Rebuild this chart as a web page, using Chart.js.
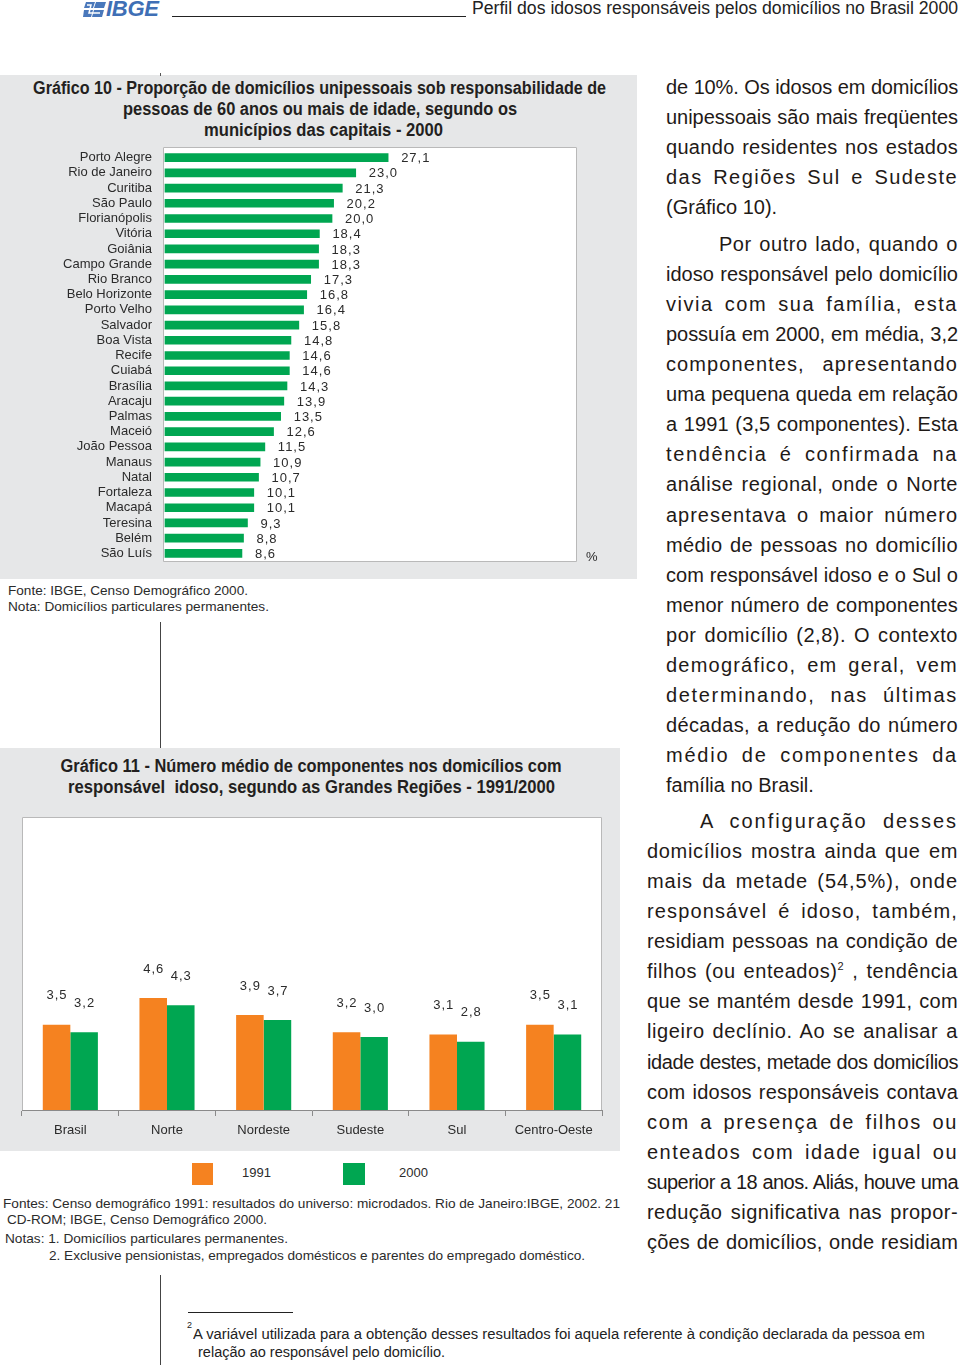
<!DOCTYPE html>
<html>
<head>
<meta charset="utf-8">
<script src="https://cdn.jsdelivr.net/npm/chart.js@4.4.0/dist/chart.umd.min.js"></script>
<style>
  body { margin: 0; width: 960px; height: 1365px; position: relative; overflow: hidden; background: #fff;
         font-family: "Liberation Sans", Arial, sans-serif; color: #231f20; }
  .abs { position: absolute; white-space: nowrap; }
  .panel { position: absolute; background: #e6e7e8; }
  .ttl { font-family: "Liberation Sans Narrow", "Liberation Sans", sans-serif; font-weight: bold; font-size: 18px; line-height: 22px; text-align: center; }
  .src { font-size: 13px; line-height: 16px; color: #2b2b2b; }
  .fit { display: inline-block; transform-origin: left center; }
  .ttl .fit { transform-origin: center center; }
  .vl { position: absolute; width: 1px; background: #444; }
  .body { position: absolute; font-size: 20px; line-height: 22px; color: #1f1a17; }
  .body.j { text-align: justify; text-align-last: justify; }
</style>
</head>
<body>

<!-- cabeçalho -->
<svg class="abs" style="left:83px;top:2px" width="24" height="15" viewBox="0 0 24 15">
  <polygon points="3,0 12,0 10,6 1,6" fill="#4a78bb"/>
  <polygon points="13,0 23,0 21,6 11,6" fill="#4a78bb"/>
  <polygon points="1,8 10,8 8,15 0,15" fill="#4a78bb"/>
  <polygon points="11,8 21,8 19,15 9,15" fill="#4a78bb"/>
  <polyline points="4,3 8,3 6,11 17,11" stroke="#fff" stroke-width="1.5" fill="none"/>
</svg>
<div class="abs" style="left:106px;top:-4px;font-size:22px;font-weight:bold;font-style:italic;color:#3f6fb5;letter-spacing:-0.3px">IBGE</div>
<div class="abs" style="left:172px;top:16px;width:294px;height:1px;background:#222"></div>
<div class="abs" style="left:472px;top:-3px;font-family:'Liberation Sans Narrow','Liberation Sans',sans-serif;font-size:18px;line-height:22px;color:#222"><span class="fit" data-w="486">Perfil dos idosos responsáveis pelos domicílios no Brasil 2000</span></div>

<!-- Gráfico 10 -->
<div class="panel" style="left:0;top:75px;width:637px;height:504px"></div>
<div class="abs" style="left:160px;top:73px;width:1px;height:3px;background:#555"></div>
<div class="abs ttl" style="left:0;top:77px;width:640px"><span class="fit" data-w="573">Gráfico 10 - Proporção de domicílios unipessoais sob responsabilidade de</span></div>
<div class="abs ttl" style="left:0;top:98px;width:640px"><span class="fit" data-w="394">pessoas de 60 anos ou mais de idade, segundo os</span></div>
<div class="abs ttl" style="left:4px;top:119px;width:640px"><span class="fit" data-w="239">municípios das capitais - 2000</span></div>
<div class="abs" style="left:0;top:140px;width:637px;height:440px"><canvas id="c1" width="637" height="440"></canvas></div>
<div class="abs src" style="left:586px;top:549px">%</div>
<div class="abs src" style="left:8px;top:583px"><span class="fit" data-w="240">Fonte: IBGE, Censo Demográfico 2000.</span></div>
<div class="abs src" style="left:8px;top:599px"><span class="fit" data-w="261">Nota: Domicílios particulares permanentes.</span></div>

<div class="vl" style="left:160px;top:622px;height:126px"></div>

<!-- Gráfico 11 -->
<div class="panel" style="left:0;top:748px;width:620px;height:403px"></div>
<div class="abs ttl" style="left:0;top:755px;width:623px"><span class="fit" data-w="501">Gráfico 11 - Número médio de componentes nos domicílios com</span></div>
<div class="abs ttl" style="left:0;top:776px;width:623px"><span class="fit" data-w="487">responsável&nbsp; idoso, segundo as Grandes Regiões - 1991/2000</span></div>
<div class="abs" style="left:0;top:800px;width:620px;height:350px"><canvas id="c2" width="620" height="350"></canvas></div>

<div class="abs" style="left:192px;top:1163px;width:21px;height:22px;background:#f58220"></div>
<div class="abs src" style="left:242px;top:1165px">1991</div>
<div class="abs" style="left:343px;top:1163px;width:22px;height:22px;background:#00a651"></div>
<div class="abs src" style="left:399px;top:1165px">2000</div>

<div class="abs src" style="left:3px;top:1196px"><span class="fit" data-w="617">Fontes: Censo demográfico 1991: resultados do universo: microdados. Rio de Janeiro:IBGE, 2002. 21</span></div>
<div class="abs src" style="left:7px;top:1212px"><span class="fit" data-w="260">CD-ROM; IBGE, Censo Demográfico 2000.</span></div>
<div class="abs src" style="left:5px;top:1231px"><span class="fit" data-w="283">Notas: 1. Domicílios particulares permanentes.</span></div>
<div class="abs src" style="left:49px;top:1248px"><span class="fit" data-w="536">2. Exclusive pensionistas, empregados domésticos e parentes do empregado doméstico.</span></div>

<div class="vl" style="left:160px;top:1275px;height:90px"></div>

<!-- nota de rodapé -->
<div class="abs" style="left:188px;top:1312px;width:105px;height:1px;background:#222"></div>
<div class="abs" style="left:187px;top:1320px;font-size:9px;color:#222">2</div>
<div class="abs" style="left:193px;top:1325px;font-size:14px;line-height:18px;color:#222"><span class="fit" data-w="732">A variável utilizada para a obtenção desses resultados foi aquela referente à condição declarada da pessoa em</span></div>
<div class="abs" style="left:198px;top:1343px;font-size:14px;line-height:18px;color:#222"><span class="fit" data-w="247">relação ao responsável pelo domicílio.</span></div>

<div id="texto"></div>

<script>
// Gráfico 10
const capitais = ['Porto Alegre', 'Rio de Janeiro', 'Curitiba', 'São Paulo', 'Florianópolis', 'Vitória',
  'Goiânia', 'Campo Grande', 'Rio Branco', 'Belo Horizonte', 'Porto Velho', 'Salvador', 'Boa Vista',
  'Recife', 'Cuiabá', 'Brasília', 'Aracaju', 'Palmas', 'Maceió', 'João Pessoa', 'Manaus', 'Natal',
  'Fortaleza', 'Macapá', 'Teresina', 'Belém', 'São Luís'];
const proporcao = [27.1, 23.0, 21.3, 20.2, 20.0, 18.4, 18.3, 18.3, 17.3, 16.8, 16.4, 15.8, 14.8,
  14.6, 14.6, 14.3, 13.9, 13.5, 12.6, 11.5, 10.9, 10.7, 10.1, 10.1, 9.3, 8.8, 8.6];

// Gráfico 11
const regioes = ['Brasil', 'Norte', 'Nordeste', 'Sudeste', 'Sul', 'Centro-Oeste'];
const comp1991 = [3.5, 4.6, 3.9, 3.2, 3.1, 3.5];
const comp2000 = [3.2, 4.3, 3.7, 3.0, 2.8, 3.1];

const LARANJA = '#f58220';
const VERDE = '#00a651';

function fmt(v) { return v.toFixed(1).replace('.', ','); }

// caixa branca atrás das barras
const plotBox = {
  id: 'plotBox',
  beforeDraw(chart, args, o) {
    const { ctx, chartArea: a } = chart;
    const top = a.top - (o.extraTop || 0);
    ctx.save();
    ctx.fillStyle = '#fff';
    ctx.fillRect(a.left, top, a.right - a.left, a.bottom - top);
    ctx.strokeStyle = '#b9b9b9';
    ctx.lineWidth = 1;
    ctx.beginPath();
    if (o.closed) {
      ctx.rect(a.left + 0.5, top + 0.5, a.right - a.left - 1, a.bottom - top);
    } else {
      ctx.moveTo(a.left + 0.5, a.bottom);
      ctx.lineTo(a.left + 0.5, top + 0.5);
      ctx.lineTo(a.right - 0.5, top + 0.5);
      ctx.lineTo(a.right - 0.5, a.bottom);
    }
    ctx.stroke();
    ctx.restore();
  }
};

const valueLabels = {
  id: 'valueLabels',
  afterDatasetsDraw(chart, args, o) {
    const ctx = chart.ctx;
    ctx.save();
    ctx.font = '13px "Liberation Sans", Arial, sans-serif';
    ctx.fillStyle = '#2b2b2b';
    ctx.letterSpacing = '1px';
    ctx.textBaseline = 'middle';
    chart.data.datasets.forEach((ds, i) => {
      chart.getDatasetMeta(i).data.forEach((bar, j) => {
        const t = fmt(ds.data[j]);
        if (o.horizontal) {
          ctx.textAlign = 'left';
          ctx.fillText(t, bar.x + 13, bar.y + 1);
        } else {
          ctx.textAlign = 'center';
          ctx.fillText(t, bar.x + 0.5, bar.y - 29);
        }
      });
    });
    ctx.restore();
  }
};

new Chart(document.getElementById('c1'), {
  type: 'bar',
  data: {
    labels: capitais,
    datasets: [{ data: proporcao, backgroundColor: VERDE, barThickness: 8, base: -1.14 }]
  },
  options: {
    indexAxis: 'y',
    responsive: false,
    animation: false,
    layout: { padding: { top: 10, bottom: 19, right: 60, left: 0 } },
    plugins: {
      legend: { display: false },
      tooltip: { enabled: false },
      plotBox: { closed: true, extraTop: 3 },
      valueLabels: { horizontal: true }
    },
    scales: {
      x: { display: false, min: -1.39, max: 51.0 },
      y: {
        grid: { display: false, drawTicks: true, tickLength: 11 },
        border: { display: false },
        ticks: { autoSkip: false, padding: 0, color: '#2b2b2b', font: { family: '"Liberation Sans", Arial, sans-serif', size: 13 } },
        afterFit(s) { s.width = 163; }
      }
    }
  },
  plugins: [plotBox, valueLabels]
});

new Chart(document.getElementById('c2'), {
  type: 'bar',
  data: {
    labels: regioes,
    datasets: [
      { label: '1991', data: comp1991, backgroundColor: LARANJA },
      { label: '2000', data: comp2000, backgroundColor: VERDE }
    ]
  },
  options: {
    responsive: false,
    animation: false,
    datasets: { bar: { categoryPercentage: 0.57, barPercentage: 1 } },
    layout: { padding: { top: 18, bottom: 12, left: 22, right: 18 } },
    plugins: {
      legend: { display: false },
      tooltip: { enabled: false },
      plotBox: { closed: false, extraTop: 1 },
      valueLabels: { horizontal: false }
    },
    scales: {
      y: { display: false, min: 0, max: 12 },
      x: {
        grid: { drawOnChartArea: false, drawTicks: true, tickLength: 6, color: '#8a8a8a' },
        border: { display: true, color: '#8a8a8a' },
        ticks: { padding: 7, color: '#2b2b2b', font: { family: '"Liberation Sans", Arial, sans-serif', size: 13 } },
        afterFit(s) { s.height = 28; }
      }
    }
  },
  plugins: [plotBox, valueLabels]
});

// texto corrido à direita
const par1 = ['de 10%. Os idosos em domicílios', 'unipessoais são mais freqüentes',
  'quando residentes nos estados', 'das Regiões Sul e Sudeste', '(Gráfico 10).'];
const par2 = ['Por outro lado, quando o', 'idoso responsável pelo domicílio', 'vivia com sua família, esta',
  'possuía em 2000, em média, 3,2', 'componentes, apresentando', 'uma pequena queda em relação',
  'a 1991 (3,5 componentes). Esta', 'tendência é confirmada na', 'análise regional, onde o Norte',
  'apresentava o maior número', 'médio de pessoas no domicílio', 'com responsável idoso e o Sul o',
  'menor número de componentes', 'por domicílio (2,8). O contexto', 'demográfico, em geral, vem',
  'determinando, nas últimas', 'décadas, a redução do número', 'médio de componentes da',
  'família no Brasil.'];
const par3 = ['A configuração desses', 'domicílios mostra ainda que em', 'mais da metade (54,5%), onde',
  'responsável é idoso, também,', 'residiam pessoas na condição de',
  'filhos (ou enteados)<sup style="font-size:11px;line-height:0">2</sup> , tendência',
  'que se mantém desde 1991, com', 'ligeiro declínio. Ao se analisar a',
  'idade destes, metade dos domicílios', 'com idosos responsáveis contava', 'com a presença de filhos ou',
  'enteados com idade igual ou', 'superior a 18 anos. Aliás, houve uma',
  'redução significativa nas propor-', 'ções de domicílios, onde residiam'];

const box = document.getElementById('texto');
function linhas(arr, y0, passo, xFirst, x, last) {
  arr.forEach((t, k) => {
    const d = document.createElement('div');
    d.className = 'body';
    const left = k === 0 ? xFirst : x;
    d.style.left = left + 'px';
    d.style.top = (y0 + passo * k - 11) + 'px';
    d.style.width = (958 - left) + 'px';
    d.innerHTML = '<span>' + t + '</span>';
    box.appendChild(d);
    const sp = d.firstChild;
    sp.style.whiteSpace = 'nowrap';
    const nat = sp.getBoundingClientRect().width;
    const alvo = 958 - left;
    const n = sp.textContent.length;
    const ultima = last && k === arr.length - 1;
    if (nat > alvo - 1) {
      d.style.letterSpacing = ((alvo - nat - 2) / n) + 'px';
    } else if (!ultima) {
      d.style.letterSpacing = (0.75 * (alvo - nat - 2) / n) + 'px';
    }
    sp.style.whiteSpace = '';
    if (!ultima) d.classList.add('j');
  });
}
linhas(par1, 87, 30, 666, 666, true);
linhas(par2, 244, 30.06, 719, 666, true);
linhas(par3, 821, 30.07, 700, 647, false);

// ajusta larguras dos textos fixos
document.querySelectorAll('.fit').forEach(el => {
  const w = el.getBoundingClientRect().width;
  const alvo = +el.dataset.w;
  if (w > 0) el.style.transform = 'scaleX(' + (alvo / w).toFixed(4) + ')';
});
</script>
</body>
</html>
